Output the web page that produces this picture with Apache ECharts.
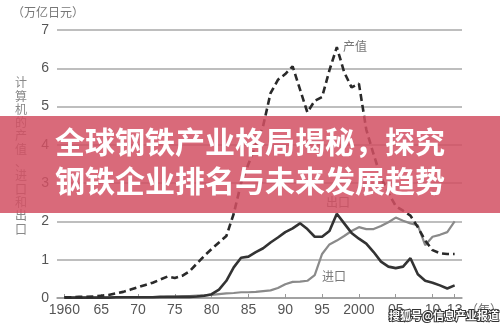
<!DOCTYPE html>
<html>
<head>
<meta charset="utf-8">
<script src="https://cdn.jsdelivr.net/npm/echarts@6/dist/echarts.min.js"></script>
<style>
    html, body { margin: 0; padding: 0; background: #fff; }
    #computer_chart { width: 500px; height: 330px; }
</style>
</head>
<body>
<div id="computer_chart"></div>
<script>
// 年份 1959-2014 (两端留空)
const years = [];
for (let y = 1959; y <= 2014; y++) years.push(String(y));

// 产值 1960-2013
const production = [null,
    0.02, 0.02, 0.03, 0.03, 0.04, 0.06, 0.08, 0.12, 0.16, 0.22,
    0.28, 0.34, 0.40, 0.48, 0.56, 0.52, 0.58, 0.70, 0.90, 1.10,
    1.28, 1.45, 1.62, 2.20, 3.00, 3.50, 4.00, 4.50, 5.35, 5.70,
    5.85, 6.05, 5.45, 4.85, 5.15, 5.25, 5.95, 6.55, 5.90, 5.50,
    5.60, 4.40, 3.75, 3.15, 2.75, 2.40, 2.28, 2.15, 1.85, 1.50,
    1.25, 1.17, 1.15, 1.15, null];

// 出口
const exports = [null,
    0.01, 0.01, 0.01, 0.01, 0.01, 0.01, 0.01, 0.02, 0.02, 0.02,
    0.02, 0.02, 0.02, 0.03, 0.03, 0.03, 0.03, 0.03, 0.04, 0.06,
    0.10, 0.22, 0.45, 0.80, 1.05, 1.08, 1.20, 1.30, 1.45, 1.58,
    1.72, 1.82, 1.95, 1.80, 1.60, 1.60, 1.75, 2.20, 1.95, 1.70,
    1.55, 1.42, 1.20, 0.95, 0.82, 0.78, 0.82, 1.04, 0.62, 0.45,
    0.40, 0.33, 0.25, 0.33, null];

// 进口
const imports = [null,
    0.01, 0.01, 0.01, 0.01, 0.01, 0.01, 0.01, 0.01, 0.02, 0.02,
    0.02, 0.02, 0.02, 0.02, 0.03, 0.03, 0.04, 0.05, 0.06, 0.07,
    0.08, 0.10, 0.12, 0.13, 0.15, 0.15, 0.16, 0.18, 0.20, 0.26,
    0.36, 0.42, 0.43, 0.45, 0.60, 1.15, 1.40, 1.50, 1.62, 1.75,
    1.85, 1.80, 1.80, 1.88, 1.98, 2.10, 2.02, 1.95, 1.90, 1.38,
    1.60, 1.65, 1.72, 2.00, null];

const xLabels = {
    '1960': '1960', '1965': '65', '1970': '70', '1975': '75', '1980': '80',
    '1985': '85', '1990': '90', '1995': '95', '2000': '2000', '2005': '05',
    '2010': '10', '2013': '13'
};
const yTitle = '计算机的产值、进口和出口';
const bannerLines = ['全球钢铁产业格局揭秘，探究', '钢铁企业排名与未来发展趋势'];

const chart = echarts.init(document.getElementById('computer_chart'));
const showLabel = function (idx, val) { return xLabels[val] !== undefined; };
const option = {
    animation: false,
    textStyle: { fontFamily: 'Liberation Sans, Noto Sans CJK SC' },
    grid: { left: 57, right: 38, top: 30, bottom: 32 },
    xAxis: {
        type: 'category',
        boundaryGap: false,
        data: years,
        axisLine: { lineStyle: { color: '#999', width: 1.5 } },
        axisTick: { interval: showLabel, inside: true, length: 4, lineStyle: { color: '#999' } },
        axisLabel: {
            interval: showLabel,
            formatter: function (v) { return xLabels[v]; },
            color: '#555', fontSize: 14, margin: 5
        }
    },
    yAxis: {
        type: 'value',
        min: 0, max: 7, interval: 1,
        axisLine: { show: false },
        axisTick: { show: false },
        axisLabel: { color: '#555', fontSize: 14, margin: 8 },
        splitLine: { lineStyle: { color: '#a8a8a8', width: 1.5 } }
    },
    series: [
        {
            name: '进口', type: 'line', data: imports, symbol: 'none',
            lineStyle: { color: '#8a8a8a', width: 2.2 }
        },
        {
            name: '出口', type: 'line', data: exports, symbol: 'none',
            lineStyle: { color: '#333', width: 2.6 }
        },
        {
            name: '产值', type: 'line', data: production, symbol: 'none',
            lineStyle: { color: '#2a2a2a', width: 2.6, type: [7, 4] }
        }
    ],
    graphic: [
        { type: 'text', left: 12, top: 6, style: { text: '（万亿日元）', fill: '#777', font: '12px Noto Sans CJK SC' } },
        { type: 'text', left: 15, top: 76, style: { text: yTitle.split('').join('\n'), fill: '#888', font: '12px Noto Sans CJK SC', lineHeight: 13.3 } },
        { type: 'text', left: 343, top: 40, style: { text: '产值', fill: '#777', font: '12px Noto Sans CJK SC' } },
        { type: 'text', left: 322, top: 270, style: { text: '进口', fill: '#777', font: '12px Noto Sans CJK SC' } },
        { type: 'text', left: 326, top: 196, style: { text: '出口', fill: '#777', font: '12px Noto Sans CJK SC' } },
        { type: 'text', left: 466, top: 303, style: { text: '（年）', fill: '#777', font: '12px Noto Sans CJK SC' } },
        {
            type: 'rect', z: 100, shape: { x: 0, y: 116, width: 500, height: 97 },
            style: { fill: 'rgba(210,80,99,0.85)' }
        },
        {
            type: 'text', z: 101, left: 'center', top: 122,
            style: { text: bannerLines.join('\n'), fill: '#fff', font: 'bold 30px Noto Sans CJK SC', lineHeight: 39 }
        },
        {
            type: 'text', z: 101, left: 388, top: 309,
            style: { text: '搜狐号@信息产业报道', fill: '#fff', stroke: '#333', lineWidth: 2, font: 'bold 11px Noto Sans CJK SC' }
        }
    ]
};
chart.setOption(option);
window.addEventListener('resize', function () {
    chart.resize();
});
</script>
</body>
</html>
